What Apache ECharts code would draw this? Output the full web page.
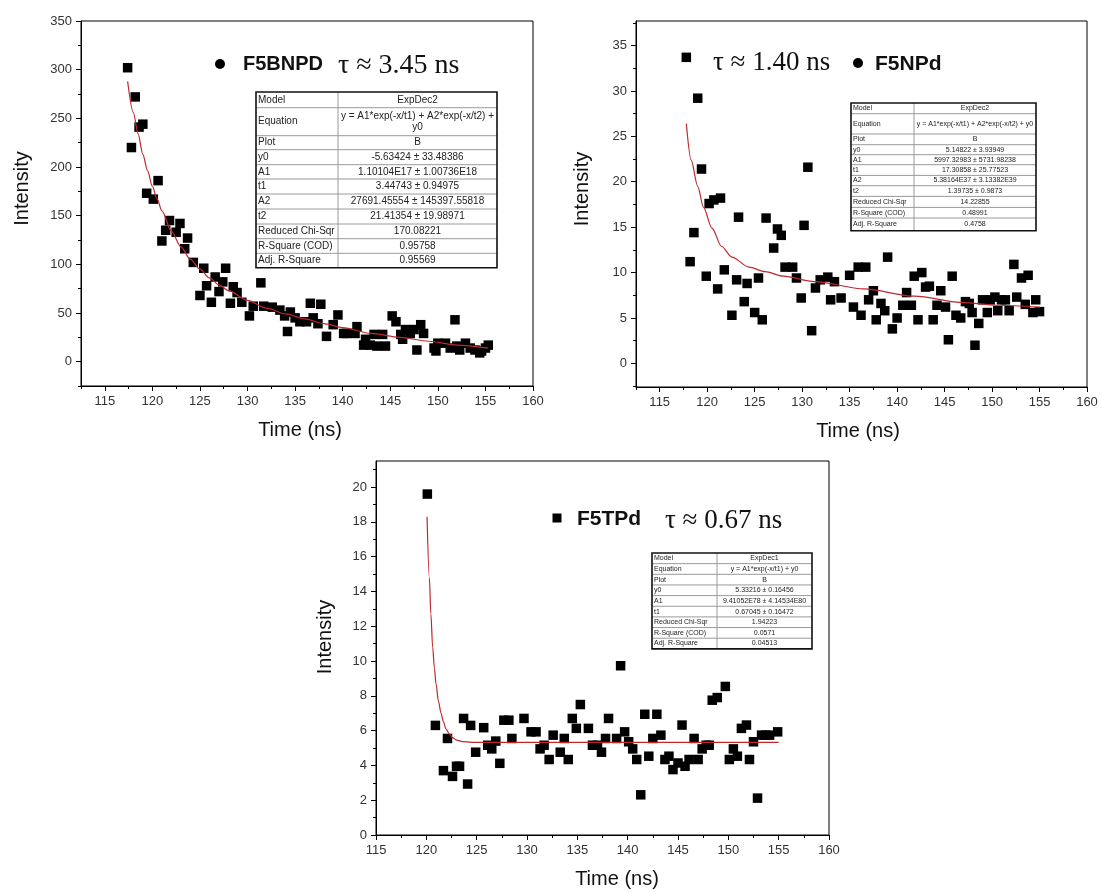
<!DOCTYPE html>
<html><head><meta charset="utf-8">
<script src="https://cdn.jsdelivr.net/npm/echarts@6/dist/echarts.min.js"></script>
<style>html,body{margin:0;padding:0;background:#fff}#c{width:1102px;height:893px}</style>
</head><body><div id="c"></div>
<script>
// ---------- tick values ----------
const timeTicks = [115,120,125,130,135,140,145,150,155,160];
const timeMinorTicks = [112.5,117.5,122.5,127.5,132.5,137.5,142.5,147.5,152.5,157.5];
const bnpdYTicks = [0,50,100,150,200,250,300,350];
const bnpdYMinor = [-25,25,75,125,175,225,275,325];
const npdYTicks = [0,5,10,15,20,25,30,35];
const npdYMinor = [-2.5,2.5,7.5,12.5,17.5,22.5,27.5,32.5,37.5];
const tpdYTicks = [0,2,4,6,8,10,12,14,16,18,20];
const tpdYMinor = [1,3,5,7,9,11,13,15,17,19,21];

// ---------- F5BNPD ----------
const bnpdTime = [117.4,117.8,118.2,118.6,119.0,119.4,120.1,120.6,121.0,121.4,121.8,122.5,122.9,123.4,123.7,124.3,125.0,125.4,125.7,126.2,126.6,127.0,127.4,127.7,128.2,128.5,128.9,129.4,130.2,130.6,131.4,131.7,132.6,133.4,133.9,134.2,134.5,135.0,135.5,136.2,136.6,136.9,137.4,137.7,138.3,139.0,139.5,140.1,140.4,141.3,141.5,142.2,142.4,142.9,143.3,143.6,144.2,144.5,145.2,145.6,146.1,146.3,146.6,147.1,147.5,147.8,148.2,148.5,149.6,149.8,150.0,150.8,151.3,151.8,152.0,152.3,152.9,153.4,153.9,154.4,154.6,155.0,155.3];
const bnpdIntensity = [302,220,272,241,244,173,167,186,124,135,145,133,142,116,127,102,68,96,78,61,87,72,82,96,60,77,71,61,47,57,81,57,56,53,47,31,51,45,41,41,60,45,39,59,26,38,48,29,29,29,36,17,23,17,28,16,28,16,47,41,28,23,33,29,33,12,38,29,14,11,19,19,14,43,16,12,19,14,12,9,11,14,17];
const bnpdFitTime = [117.4,118,118.5,119,119.5,120,120.5,121,122,123,124,125,126,127,128,130,132,134,136,138,140,143,146,149,152,155.3];
const bnpdFitIntensity = [288,256,234,213,196,180,167,155,134,118,105,95,86,79,73,63,55,49,44,39,35,29,25,21,17,14];

// ---------- F5NPd ----------
const npdTime = [117.8,118.2,118.6,119.0,119.4,119.9,120.2,120.7,121.1,121.4,121.8,122.6,123.1,123.3,123.9,124.2,125.0,125.4,125.8,126.2,127.0,127.4,127.8,128.2,129.0,129.4,129.9,130.2,130.6,131.0,131.4,131.9,132.7,133.0,133.4,134.1,135.0,135.4,135.9,136.2,136.7,137.0,137.5,137.8,138.3,138.7,139.0,139.5,140.0,140.6,141.0,141.5,141.8,142.2,142.6,143.0,143.4,143.8,144.2,144.6,145.1,145.4,145.8,146.2,146.7,147.2,147.6,147.9,148.2,148.6,149.0,149.5,149.8,150.3,150.6,151.0,151.4,151.8,152.3,152.6,153.1,153.5,153.8,154.3,154.6,155.0];
const npdIntensity = [33.7,11.2,14.4,29.2,21.4,9.6,17.6,18.0,8.2,18.2,10.3,5.3,9.2,16.1,6.8,8.8,5.6,9.4,4.8,16.0,12.7,14.8,14.1,10.6,10.6,9.4,7.2,15.2,21.6,3.6,8.3,9.2,9.5,7.0,9.0,7.2,9.7,6.2,10.6,5.3,10.6,7.0,8.0,4.8,6.6,5.8,11.7,3.8,5.0,6.4,7.8,6.4,9.6,4.8,10.0,8.4,8.5,4.8,6.4,8.0,6.2,2.6,9.6,5.3,5.0,6.8,6.6,5.6,2.0,4.4,7.0,5.6,7.0,7.3,5.8,7.0,7.0,5.8,10.9,7.3,9.4,6.5,9.7,5.6,7.0,5.7];
const npdFitTime = [117.8,118.3,119.0,119.6,120.5,121.5,122.6,124.4,126.1,128,131.3,136.5,141.8,147,150.5,155];
const npdFitIntensity = [26.4,22.4,19.5,17.2,14.9,12.9,11.7,10.6,10.1,9.6,9.0,8.2,7.4,6.7,6.4,6.2];

// ---------- F5TPd ----------
const tpdTime = [120.1,120.9,121.7,122.1,122.6,123.0,123.3,123.7,124.1,124.4,124.9,125.7,126.1,126.5,126.9,127.3,127.7,128.2,128.5,129.7,130.4,130.9,131.3,131.7,132.2,132.6,133.3,133.7,134.1,134.5,134.9,135.3,136.1,136.5,137.0,137.4,137.8,138.1,138.9,139.3,139.7,140.1,140.5,140.9,141.3,141.7,142.1,142.5,142.9,143.3,143.7,144.1,144.5,145.0,145.4,145.7,146.1,146.6,147.0,147.4,147.8,148.1,148.4,148.9,149.7,150.1,150.5,150.9,151.3,151.8,152.1,152.5,152.9,153.3,153.7,154.1,154.9];
const tpdIntensity = [19.6,6.3,3.7,5.55,3.37,3.95,3.95,6.7,2.93,6.3,4.76,6.17,5.16,4.95,5.4,4.12,6.6,6.6,5.55,6.7,5.93,5.93,4.95,5.16,4.34,5.74,4.76,5.55,4.34,6.7,6.13,7.5,6.13,5.16,5.16,4.76,5.55,6.7,5.55,9.73,5.93,5.36,4.95,4.34,2.31,6.94,4.53,5.55,6.94,5.74,4.34,4.53,3.76,4.14,6.32,3.95,4.34,5.55,4.34,4.95,5.16,5.16,7.75,7.9,8.54,4.34,4.95,4.53,6.13,6.32,4.34,5.36,2.12,5.74,5.74,5.74,5.93];
const tpdFitTime = [120.07,120.3,120.45,120.63,120.8,120.96,121.2,121.46,121.7,121.95,122.3,122.6,123.0,123.6,124.5,130,140,150,155];
const tpdFitIntensity = [18.3,14.8,12.7,10.8,9.6,8.7,7.7,7.0,6.5,6.1,5.8,5.6,5.45,5.37,5.33,5.33,5.33,5.33,5.33];

// ---------- fit tables ----------
const bnpdTable = [
  ['Model','ExpDec2'],
  ['Equation','y = A1*exp(-x/t1) + A2*exp(-x/t2) +\ny0'],
  ['Plot','B'],
  ['y0','-5.63424 ± 33.48386'],
  ['A1','1.10104E17 ± 1.00736E18'],
  ['t1','3.44743 ± 0.94975'],
  ['A2','27691.45554 ± 145397.55818'],
  ['t2','21.41354 ± 19.98971'],
  ['Reduced Chi-Sqr','170.08221'],
  ['R-Square (COD)','0.95758'],
  ['Adj. R-Square','0.95569']
];
const npdTable = [
  ['Model','ExpDec2'],
  ['Equation','y = A1*exp(-x/t1) + A2*exp(-x/t2) + y0'],
  ['Plot','B'],
  ['y0','5.14822 ± 3.93949'],
  ['A1','5997.32983 ± 5731.98238'],
  ['t1','17.30858 ± 25.77523'],
  ['A2','5.38164E37 ± 3.13382E39'],
  ['t2','1.39735 ± 0.9873'],
  ['Reduced Chi-Sqr','14.22855'],
  ['R-Square (COD)','0.48991'],
  ['Adj. R-Square','0.4758']
];
const tpdTable = [
  ['Model','ExpDec1'],
  ['Equation','y = A1*exp(-x/t1) + y0'],
  ['Plot','B'],
  ['y0','5.33216 ± 0.16456'],
  ['A1','9.41052E78 ± 4.14534E80'],
  ['t1','0.67045 ± 0.16472'],
  ['Reduced Chi-Sqr','1.94223'],
  ['R-Square (COD)','0.0571'],
  ['Adj. R-Square','0.04513']
];

const SANS = '"Liberation Sans", Arial, sans-serif';
const SERIF = '"Liberation Serif", "Times New Roman", serif';

function zip(xs, ys) {
  const n = Math.min(xs.length, ys.length), out = [];
  for (let i = 0; i < n; i++) out.push([xs[i], ys[i]]);
  return out;
}

const panels = [
  { left:81, top:21, width:452, height:365, xMin:112.5, xMax:160, xTicks:timeTicks, xMinor:timeMinorTicks,
    yMin:-25, yMax:350, yTicks:bnpdYTicks, yMinor:bnpdYMinor,
    yGap:49, yPad:[0,0,0,30], xGap:34, xPad:[0,14,0,0],
    pts:[bnpdTime,bnpdIntensity], fit:[bnpdFitTime,bnpdFitIntensity], name:'F5BNPD',
    table:bnpdTable, tl:{x:256,y:92,w:241,c:82,rows:[15.7,28,14,15,14.3,15,15,15,14.7,14.6,14.4],fs:10} },
  { left:636, top:21, width:451, height:366, xMin:112.5, xMax:160, xTicks:timeTicks, xMinor:timeMinorTicks,
    yMin:-2.6, yMax:37.7, yTicks:npdYTicks, yMinor:npdYMinor,
    yGap:44, yPad:[0,0,0,30], xGap:34, xPad:[0,7,0,0],
    pts:[npdTime,npdIntensity], fit:[npdFitTime,npdFitIntensity], name:'F5NPd',
    table:npdTable, tl:{x:851,y:103,w:185,c:63,rows:[10.7,20.3,10.7,10,10,10.7,10.3,10.7,11,10.6,12.7],fs:7} },
  { left:376, top:461, width:453, height:374, xMin:115, xMax:160, xTicks:timeTicks, xMinor:timeMinorTicks.slice(1),
    yMin:0, yMax:21.5, yTicks:tpdYTicks, yMinor:tpdYMinor,
    yGap:41, yPad:[0,0,0,22], xGap:34, xPad:[0,0,0,29],
    pts:[tpdTime,tpdIntensity], fit:[tpdFitTime,tpdFitIntensity], name:'F5TPd',
    table:tpdTable, tl:{x:652,y:553,w:160,c:65,rows:[10.65,10.65,10.65,10.65,10.65,10.65,10.65,10.65,10.7],fs:7} }
];

const option = {
  animation: false,
  backgroundColor: '#fff',
  grid: [], xAxis: [], yAxis: [], series: [], graphic: []
};

panels.forEach((p, i) => {
  option.grid.push({ left:p.left, top:p.top, width:p.width, height:p.height, show:true,
    borderColor:'#000', borderWidth:1, backgroundColor:'transparent' });
  option.xAxis.push({ type:'value', gridIndex:i, min:p.xMin, max:p.xMax, position:'bottom',
    name:'Time (ns)', nameLocation:'middle', nameGap:p.xGap,
    nameTextStyle:{ fontFamily:SANS, fontSize:20, color:'#111', padding:p.xPad },
    axisLine:{ show:true, onZero:false, lineStyle:{ color:'#000', width:1 } },
    axisTick:{ show:true, length:5, customValues:p.xTicks, lineStyle:{ color:'#000' } },
    axisLabel:{ show:true, customValues:p.xTicks, fontFamily:SANS, fontSize:13, color:'#333', margin:9 },
    splitLine:{ show:false } });
  option.xAxis.push({ type:'value', gridIndex:i, min:p.xMin, max:p.xMax, position:'bottom',
    axisLine:{ show:false, onZero:false },
    axisTick:{ show:true, length:3, customValues:p.xMinor, lineStyle:{ color:'#000' } },
    axisLabel:{ show:false }, splitLine:{ show:false } });
  option.yAxis.push({ type:'value', gridIndex:i, min:p.yMin, max:p.yMax, position:'left',
    name:'Intensity', nameLocation:'middle', nameGap:p.yGap,
    nameTextStyle:{ fontFamily:SANS, fontSize:20, color:'#111', padding:p.yPad },
    axisLine:{ show:true, onZero:false, lineStyle:{ color:'#000', width:1 } },
    axisTick:{ show:true, length:5, customValues:p.yTicks, lineStyle:{ color:'#000' } },
    axisLabel:{ show:true, customValues:p.yTicks, fontFamily:SANS, fontSize:13, color:'#333', margin:9 },
    splitLine:{ show:false } });
  option.yAxis.push({ type:'value', gridIndex:i, min:p.yMin, max:p.yMax, position:'left',
    axisLine:{ show:false, onZero:false },
    axisTick:{ show:true, length:3, customValues:p.yMinor, lineStyle:{ color:'#000' } },
    axisLabel:{ show:false }, splitLine:{ show:false } });

  option.series.push({ type:'scatter', name:p.name, xAxisIndex:2*i, yAxisIndex:2*i,
    data:zip(p.pts[0], p.pts[1]), symbol:'rect', symbolSize:9.5,
    itemStyle:{ color:'#000', opacity:1 }, emphasis:{ disabled:true }, z:2 });
  option.series.push({ type:'line', name:p.name + ' fit', xAxisIndex:2*i, yAxisIndex:2*i,
    data:zip(p.fit[0], p.fit[1]), showSymbol:false, smooth:0.3, smoothMonotone:'x',
    lineStyle:{ color:'#c0272d', width:1.2 }, emphasis:{ disabled:true }, z:3 });

  const t = p.tl, kids = [];
  const total = t.rows.reduce((a,b)=>a+b,0);
  kids.push({ type:'rect', shape:{ x:t.x, y:t.y, width:t.w, height:total }, style:{ fill:'#fff', stroke:'none' } });
  let yy = t.y;
  p.table.forEach((row, r) => {
    const h = t.rows[r];
    if (r > 0) kids.push({ type:'line', shape:{ x1:t.x, y1:yy, x2:t.x+t.w, y2:yy }, style:{ stroke:'#9a9a9a', lineWidth:1 } });
    kids.push({ type:'text', style:{ text:row[0], x:t.x+2, y:yy+h/2, textAlign:'left', textVerticalAlign:'middle',
      fontFamily:SANS, fontSize:t.fs, fill:'#222' } });
    kids.push({ type:'text', style:{ text:row[1], x:t.x+t.c+(t.w-t.c)/2, y:yy+h/2, textAlign:'center', textVerticalAlign:'middle',
      fontFamily:SANS, fontSize:t.fs, fill:'#222', lineHeight:t.fs+1.5 } });
    yy += h;
  });
  kids.push({ type:'line', shape:{ x1:t.x+t.c, y1:t.y, x2:t.x+t.c, y2:t.y+total }, style:{ stroke:'#9a9a9a', lineWidth:1 } });
  kids.push({ type:'rect', shape:{ x:t.x, y:t.y, width:t.w, height:total }, style:{ fill:'none', stroke:'#111', lineWidth:1.6 } });
  option.graphic.push({ type:'group', z:10, children:kids });
});

option.graphic.push({ type:'group', z:10, children:[
  { type:'circle', shape:{ cx:220, cy:64, r:5 }, style:{ fill:'#000' } },
  { type:'text', style:{ text:'F5BNPD', x:243, y:64, textAlign:'left', textVerticalAlign:'middle', fontFamily:SANS, fontWeight:'bold', fontSize:20, fill:'#111' } },
  { type:'text', style:{ text:'τ ≈ 3.45 ns', x:338, y:66, textAlign:'left', textVerticalAlign:'middle', fontFamily:SERIF, fontSize:28, fill:'#111' } },

  { type:'text', style:{ text:'τ ≈ 1.40 ns', x:713, y:63, textAlign:'left', textVerticalAlign:'middle', fontFamily:SERIF, fontSize:27, fill:'#111' } },
  { type:'circle', shape:{ cx:858, cy:63, r:5 }, style:{ fill:'#000' } },
  { type:'text', style:{ text:'F5NPd', x:875, y:64, textAlign:'left', textVerticalAlign:'middle', fontFamily:SANS, fontWeight:'bold', fontSize:21, fill:'#111' } },

  { type:'rect', shape:{ x:552.5, y:513.5, width:9, height:9 }, style:{ fill:'#000' } },
  { type:'text', style:{ text:'F5TPd', x:577, y:519, textAlign:'left', textVerticalAlign:'middle', fontFamily:SANS, fontWeight:'bold', fontSize:21, fill:'#111' } },
  { type:'text', style:{ text:'τ ≈ 0.67 ns', x:665, y:521, textAlign:'left', textVerticalAlign:'middle', fontFamily:SERIF, fontSize:27, fill:'#111' } }
]});

const chart = echarts.init(document.getElementById('c'), null, { renderer:'canvas' });
chart.setOption(option);
</script></body></html>
